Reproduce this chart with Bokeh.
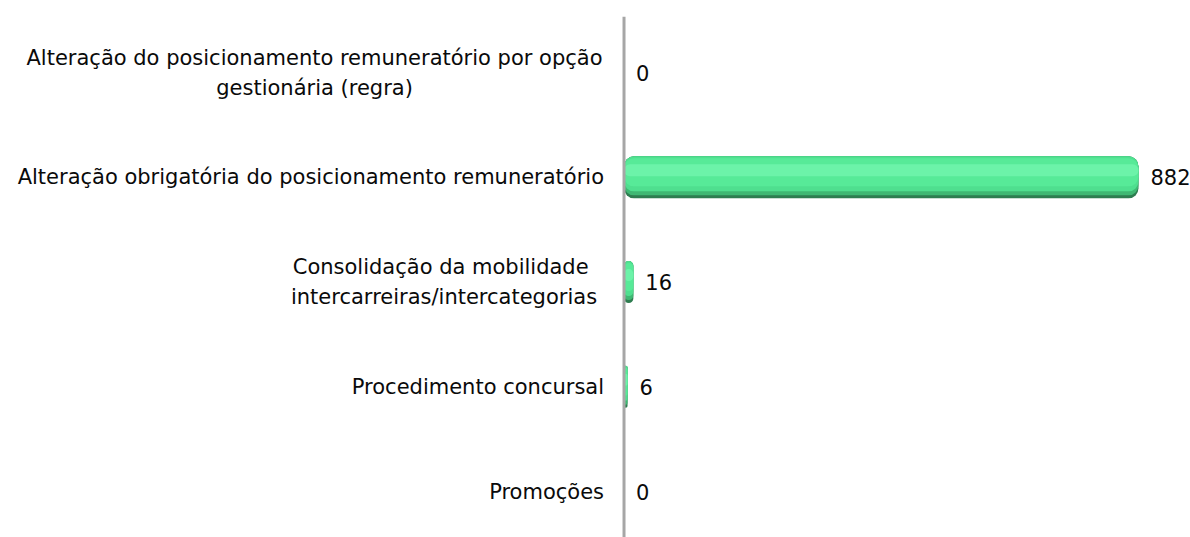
from bokeh.plotting import figure
from bokeh.models import Range1d, Span, ColumnDataSource
from bokeh.core.properties import value
from bokeh.embed import file_html
from bokeh.resources import INLINE

categories = [
    ["Alteração do posicionamento remuneratório por opção", "gestionária (regra)"],
    ["Alteração obrigatória do posicionamento remuneratório"],
    ["Consolidação da mobilidade ", "intercarreiras/intercategorias"],
    ["Procedimento concursal"],
    ["Promoções"],
]
values = [0, 882, 16, 6, 0]
value_labels = ["0", "882", "16", "6", "0"]

FONT = "DejaVu Sans"
FS = "21px"
pos = list(range(len(values)))

p = figure(width=1190, height=537, output_backend="svg", toolbar_location=None,
           x_range=Range1d(-1069.0, 971.2), y_range=Range1d(4.439, -0.535),
           min_border_left=0, min_border_right=0, min_border_top=16, min_border_bottom=0)
p.axis.visible = False
p.grid.visible = False
p.outline_line_color = None
p.background_fill_color = "white"

# axis line
p.add_layout(Span(location=0, dimension="height", line_color="#a6a6a6", line_width=3))

# bars with layered shading
BH = 0.40
px = 1 / 104.75
layers = [
    (0, 42, "#2e7d50"),
    (0, 39, "#3fb873"),
    (0, 35, "#4fdf8f"),
    (2, 30, "#57ea98"),
    (8, 20, "#6cf3a9"),
]
for top, bot, col in layers:
    ys = [y - BH / 2 + (top + bot) / 2 * px for y in pos]
    p.hbar(y=ys, left=0, right=values, height=(bot - top) * px, color=col,
           line_color=None, border_radius=10)

# value labels
p.text(x=values, y=pos, text=value_labels, x_offset=12, text_align="left",
       text_baseline="middle", text_font=value(FONT), text_font_size=FS, text_color="#0a0a0a")

# category labels
centers = {0: -309.5, 2: -180.0}
single_src = ColumnDataSource(dict(x=[0 for c in categories if len(c) == 1],
                                   y=[i for i, c in enumerate(categories) if len(c) == 1],
                                   text=[c[0] for c in categories if len(c) == 1]))
p.text(x="x", y="y", text="text", source=single_src, x_offset=-20, text_align="right",
       text_baseline="middle", text_font=value(FONT), text_font_size=FS, text_color="#0a0a0a")
for i, c in enumerate(categories):
    if len(c) > 1:
        for j, line in enumerate(c):
            p.text(x=[0], y=[i], text=[line], x_offset=centers[i],
                   y_offset=(j - (len(c) - 1) / 2) * 30, text_align="center",
                   text_baseline="middle", text_font=value(FONT), text_font_size=FS,
                   text_color="#0a0a0a")

open("out.html", "w").write(file_html(p, INLINE))
